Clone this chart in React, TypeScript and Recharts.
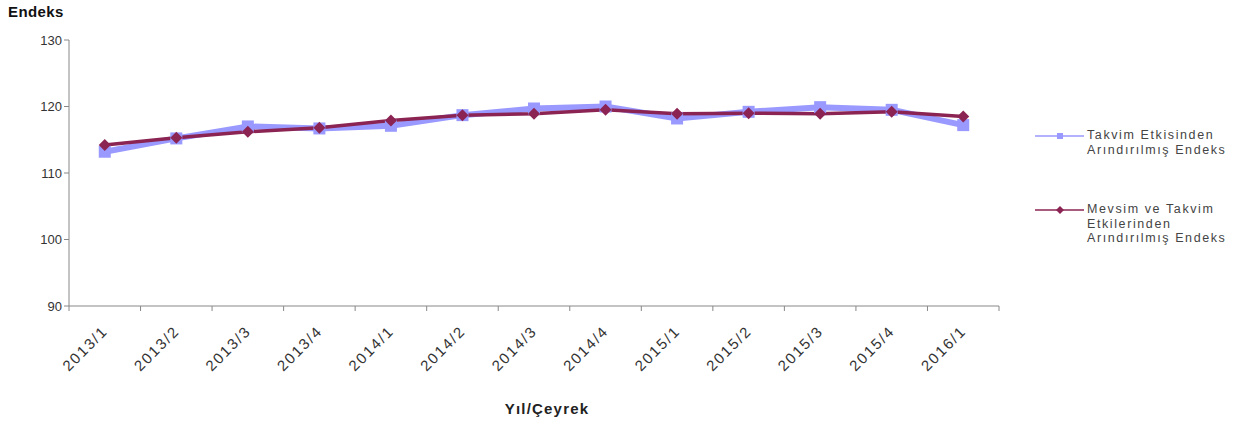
import React from "react";
import { LineChart, Line, XAxis, YAxis } from "recharts";

const quarters = [
  "2013/1", "2013/2", "2013/3", "2013/4",
  "2014/1", "2014/2", "2014/3", "2014/4",
  "2015/1", "2015/2", "2015/3", "2015/4",
  "2016/1",
];
const takvim = [113.2, 115.2, 117.0, 116.7, 117.1, 118.7, 119.7, 120.0, 118.2, 119.2, 119.9, 119.5, 117.2];
const mevsimTakvim = [114.2, 115.3, 116.2, 116.8, 117.9, 118.7, 118.9, 119.5, 118.9, 119.0, 118.9, 119.2, 118.5];
const yTicks = [90, 100, 110, 120, 130];

const data = quarters.map((q, i) => ({ q, takvim: takvim[i], mevsim: mevsimTakvim[i] }));

const BLUE = "#9999ff";
const WINE = "#8b2452";
const AXIS = "#888";
const FONT = "'Liberation Sans', Arial, sans-serif";
const PLOT_W = 930;
const HALF_BAND = PLOT_W / quarters.length / 2;

const Square = (props: any) => {
  const { cx, cy } = props;
  if (cx == null || cy == null) return null;
  return <rect x={cx - 6} y={cy - 6} width={12} height={12} fill={BLUE} />;
};

const Diamond = (props: any) => {
  const { cx, cy } = props;
  if (cx == null || cy == null) return null;
  const r = 6;
  return <polygon points={`${cx},${cy - r} ${cx + r},${cy} ${cx},${cy + r} ${cx - r},${cy}`} fill={WINE} />;
};

// category label plus tick marks between categories (Excel style)
const QuarterTick = (props: any) => {
  const { x, y, payload, index } = props;
  const last = index === quarters.length - 1;
  return (
    <g>
      <line x1={x - HALF_BAND} y1={y} x2={x - HALF_BAND} y2={y + 5} stroke={AXIS} />
      {last && <line x1={x + HALF_BAND} y1={y} x2={x + HALF_BAND} y2={y + 5} stroke={AXIS} />}
      <g transform={`translate(${x + 4},${y + 26})`}>
        <text textAnchor="end" transform="rotate(-45)" fontSize={15} letterSpacing={1.8} fill="#333" fontFamily={FONT}>
          {payload.value}
        </text>
      </g>
    </g>
  );
};

const legendItems = [
  { kind: "square", color: BLUE, lines: ["Takvim Etkisinden", "Arındırılmış Endeks"] },
  { kind: "diamond", color: WINE, lines: ["Mevsim ve Takvim", "Etkilerinden", "Arındırılmış Endeks"] },
];

const LegendBox = () => (
  <div style={{ position: "absolute", left: 1035, top: 128, fontFamily: FONT, fontSize: 12.5, color: "#444", letterSpacing: 1.6 }}>
    {legendItems.map((it, i) => (
      <div key={i} style={{ display: "flex", alignItems: "flex-start", marginBottom: i === 0 ? 45 : 0 }}>
        <svg width={49} height={15} style={{ flexShrink: 0 }}>
          <line x1={0} y1={8} x2={49} y2={8} stroke={it.color} strokeWidth={1.5} />
          {it.kind === "square" ? (
            <rect x={22} y={5} width={6} height={6} fill={it.color} />
          ) : (
            <polygon points="25,4 29,8 25,12 21,8" fill={it.color} />
          )}
        </svg>
        <div style={{ lineHeight: "14.5px", marginLeft: 3 }}>
          {it.lines.map((l, j) => (
            <div key={j}>{l}</div>
          ))}
        </div>
      </div>
    ))}
  </div>
);

export default function App() {
  return (
    <div style={{ position: "absolute", left: 0, top: 0, width: 1237, height: 434, background: "#fff" }}>
      <div style={{ position: "absolute", left: 8, top: 3, fontFamily: FONT, fontWeight: "bold", fontSize: 15, letterSpacing: 0.4, color: "#111" }}>
        Endeks
      </div>
      <div style={{ position: "absolute", left: 0, width: 1094, top: 400, textAlign: "center", fontFamily: FONT, fontWeight: "bold", fontSize: 15, letterSpacing: 1.2, color: "#222" }}>
        Yıl/Çeyrek
      </div>
      <LineChart
        width={1237}
        height={434}
        data={data}
        margin={{ top: 40, right: 238, bottom: 68, left: 19 }}
      >
        <XAxis
          dataKey="q"
          height={60}
          axisLine={{ stroke: AXIS }}
          tickLine={false}
          tickSize={0}
          tickMargin={0}
          interval={0}
          padding={{ left: HALF_BAND, right: HALF_BAND }}
          tick={<QuarterTick />}
        />
        <YAxis
          domain={[90, 130]}
          ticks={yTicks}
          width={50}
          interval={0}
          axisLine={{ stroke: AXIS }}
          tickLine={{ stroke: AXIS }}
          tickSize={5}
          tick={{ fontSize: 13, fill: "#333", fontFamily: FONT }}
        />
        <Line
          dataKey="takvim"
          name="Takvim Etkisinden Arındırılmış Endeks"
          stroke={BLUE}
          strokeWidth={6}
          dot={<Square />}
          activeDot={false}
          isAnimationActive={false}
        />
        <Line
          dataKey="mevsim"
          name="Mevsim ve Takvim Etkilerinden Arındırılmış Endeks"
          stroke={WINE}
          strokeWidth={3.5}
          dot={<Diamond />}
          activeDot={false}
          isAnimationActive={false}
        />
      </LineChart>
      <LegendBox />
    </div>
  );
}
